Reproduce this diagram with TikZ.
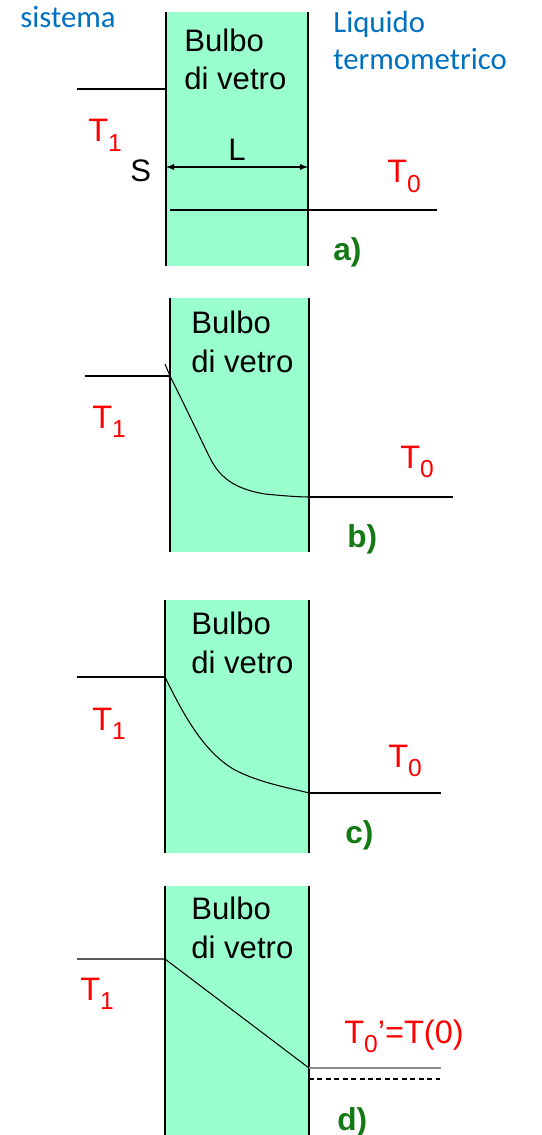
\documentclass[tikz,border=0pt]{standalone}
\usepackage{fontspec}
\setmainfont{Liberation Sans}
\newfontfamily\calib{Carlito}
\usepackage{tikz}
\definecolor{bulbgreen}{RGB}{153,255,204}
\definecolor{tagggreen}{RGB}{20,120,20}
\definecolor{noteblue}{RGB}{0,112,192}
\newcommand\Tsub[1]{T\raisebox{-5.5pt}{\fontsize{14}{14}\selectfont #1}}

\begin{document}
\begin{tikzpicture}[x=0.02cm,y=-0.02cm,>=latex]
\tikzset{wall/.style={draw=black,line width=.6pt}, prof/.style={draw=black,line width=.6pt},
  lab/.style={font=\fontsize{17.7}{22}\selectfont,inner sep=0pt,anchor=base west},
  temp/.style={lab,text=red,font=\fontsize{18.5}{22}\selectfont},
  tagg/.style={lab,text=tagggreen,font=\bfseries\fontsize{18}{22}\selectfont},
  note/.style={inner sep=0pt,anchor=base west,align=left,text=noteblue,font=\calib\fontsize{17.5}{21.5}\selectfont},
  bulbo/.style={lab,align=left}}
\useasboundingbox (0,0) rectangle (541,1135);
% a) stazionario iniziale
\begin{scope}[shift={(0,0)}]
  \fill[bulbgreen] (166,12) rectangle (308,266);
  \draw[wall] (166,12) -- (166,266) (308,12) -- (308,266);
  \coordinate (a1) at (77,89); \coordinate (a2) at (166,89);
  \coordinate (a3) at (170,210); \coordinate (a4) at (437,210);
  \coordinate (sl) at (166,167); \coordinate (sr) at (308,167);
  \draw[prof] (a1) -- (a2);
  \draw[prof] (a3) -- (a4);
  \draw[<->,line width=.6pt] (sl) -- (sr);
  \node[bulbo] (bulboa) at (184,90) {Bulbo\\di vetro};
  \node[lab] (L) at (228,161) {L};
  \node[lab] (S) at (130,182) {S};
  \node[temp] (T1a) at (88,142) {\Tsub{1}};
  \node[temp] (T0a) at (387,183) {\Tsub{0}};
  \node[tagg] (taga) at (333,260) {a)};
  \node[note] (sist) at (20,28) {sistema};
  \node[note] (liq) at (333,70) {Liquido\\termometrico};
\end{scope}
% b)
\begin{scope}[shift={(0,286)}]
  \fill[bulbgreen] (170,12) rectangle (309,266);
  \draw[wall] (170,12) -- (170,266) (309,12) -- (309,266);
  \coordinate (b1) at (85,90); \coordinate (b2) at (170,90);
  \coordinate (b3) at (309,211); \coordinate (b4) at (453,211);
  \draw[prof] (b1) -- (b2);
  \draw[prof] (165,78) -- (b2) .. controls (190,130) and (203,158) .. (210,172)
    .. controls (220,192) and (235,203) .. (265,208) .. controls (285,210) and (300,211) .. (b3);
  \draw[prof] (b3) -- (b4);
  \node[bulbo] (bulbob) at (191,86) {Bulbo\\di vetro};
  \node[temp] (T1b) at (92,142) {\Tsub{1}};
  \node[temp] (T0b) at (400,182) {\Tsub{0}};
  \node[tagg] (tagb) at (347,261) {b)};
\end{scope}
% c)
\begin{scope}[shift={(0,588)}]
  \fill[bulbgreen] (165,12) rectangle (309,265);
  \draw[wall] (165,12) -- (165,265) (309,12) -- (309,265);
  \coordinate (c1) at (77,89); \coordinate (c2) at (165,89);
  \coordinate (c3) at (309,205); \coordinate (c4) at (441,205);
  \draw[prof] (c1) -- (c2);
  \draw[prof] (c2) .. controls (185,130) and (205,165) .. (235,182)
    .. controls (260,195) and (290,200) .. (c3);
  \draw[prof] (c3) -- (c4);
  \node[bulbo] (bulboc) at (191,85) {Bulbo\\di vetro};
  \node[temp] (T1c) at (92,142) {\Tsub{1}};
  \node[temp] (T0c) at (388,179) {\Tsub{0}};
  \node[tagg] (tagc) at (345,255) {c)};
\end{scope}
% d) stazionario finale
\begin{scope}[shift={(0,874)}]
  \fill[bulbgreen] (165,12) rectangle (309,261);
  \draw[wall] (165,12) -- (165,261) (309,12) -- (309,261);
  \coordinate (d1) at (77,85); \coordinate (d2) at (165,85);
  \coordinate (d3) at (309,194); \coordinate (d4) at (441,194);
  \coordinate (d5) at (309,205); \coordinate (d6) at (441,205);
  \draw[prof] (d1) -- (d2) -- (d3);
  \draw[draw=black!45,line width=1pt] (d3) -- (d4);
  \draw[prof,dash pattern=on 2.8pt off 2pt] (d5) -- (d6);
  \node[bulbo] (bulbod) at (191,84) {Bulbo\\di vetro};
  \node[temp] (T1d) at (80,126) {\Tsub{1}};
  \node[temp] (T0d) at (344,169) {\Tsub{0}’=T(0)};
  \node[tagg] (tagd) at (337,256) {d)};
\end{scope}
\end{tikzpicture}
\end{document}
